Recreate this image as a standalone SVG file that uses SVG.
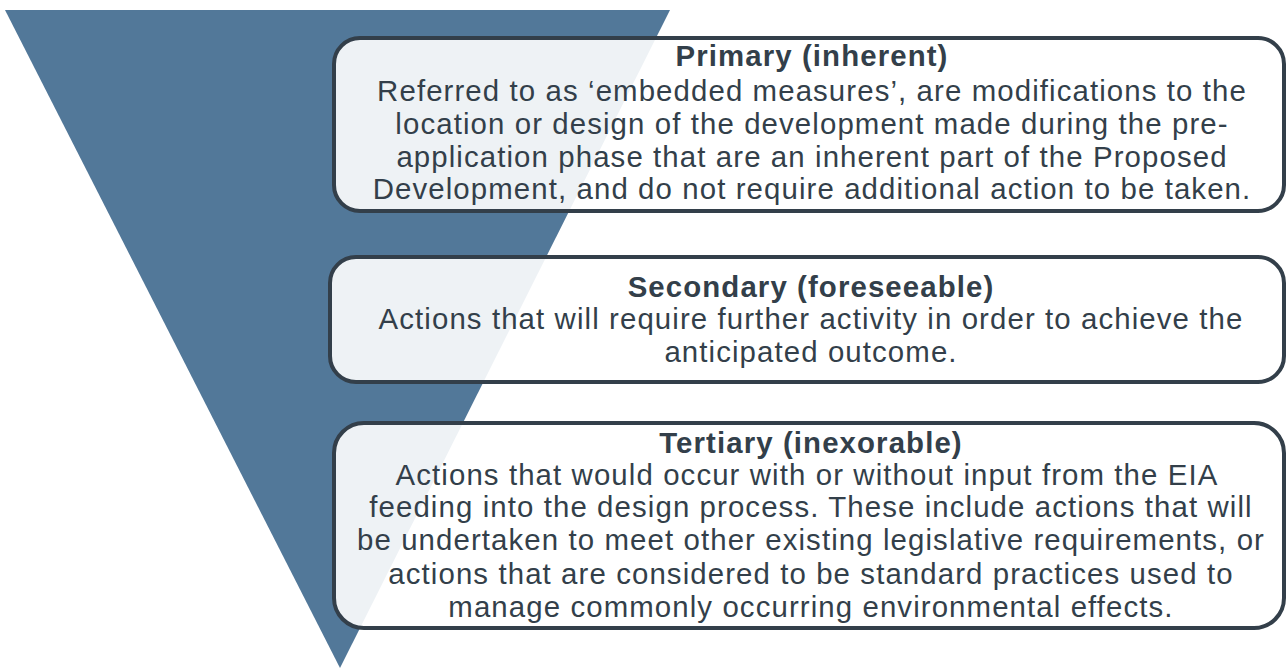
<svg xmlns="http://www.w3.org/2000/svg" width="1286" height="671" viewBox="0 0 1286 671">
<style>
.box{fill:#ffffff;fill-opacity:0.9;stroke:#333f4a;stroke-width:4}
text{font-family:"Liberation Sans",Arial,sans-serif;font-size:29.4px;letter-spacing:1.1px;fill:#333f4a;text-anchor:middle}
.t{font-weight:bold}
</style>
<rect width="1286" height="671" fill="#ffffff"/>
<g id="funnel"><polygon points="5,10 670,10 340,668" fill="#527899"/></g>
<g id="primary">
<rect class="box" x="334" y="38" width="950" height="173" rx="26"/>
<text class="t" x="812" y="66">Primary (inherent)</text>
<text x="812" y="101">Referred to as ‘embedded measures’, are modifications to the</text>
<text x="812" y="134">location or design of the development made during the pre-</text>
<text x="812" y="167">application phase that are an inherent part of the Proposed</text>
<text x="812" y="199">Development, and do not require additional action to be taken.</text>
</g>
<g id="secondary">
<rect class="box" x="330" y="257" width="954" height="125" rx="26"/>
<text class="t" x="811" y="297">Secondary (foreseeable)</text>
<text x="811" y="329">Actions that will require further activity in order to achieve the</text>
<text x="811" y="362">anticipated outcome.</text>
</g>
<g id="tertiary">
<rect class="box" x="334" y="423" width="950" height="205" rx="30"/>
<text class="t" x="811" y="453">Tertiary (inexorable)</text>
<text x="807" y="485">Actions that would occur with or without input from the EIA</text>
<text x="811" y="517">feeding into the design process. These include actions that will</text>
<text x="811" y="550">be undertaken to meet other existing legislative requirements, or</text>
<text x="811" y="584">actions that are considered to be standard practices used to</text>
<text x="811" y="617">manage commonly occurring environmental effects.</text>
</g>
<g id="connectors"></g>
</svg>
